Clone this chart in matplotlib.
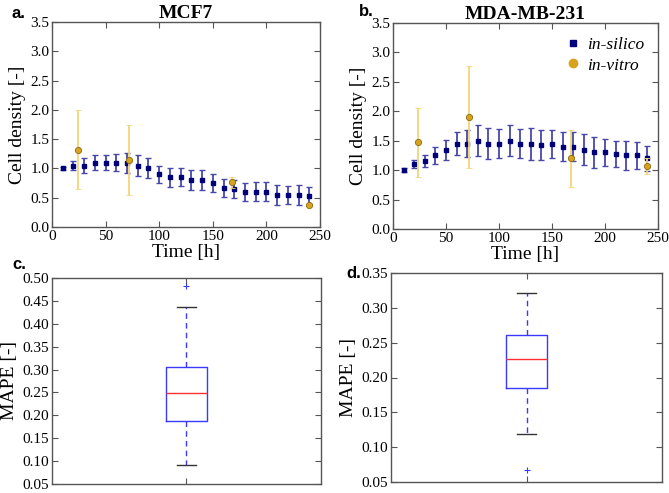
import numpy as np
import matplotlib
matplotlib.use('Agg')
import matplotlib.pyplot as plt
from matplotlib.lines import Line2D

plt.rcParams['font.family'] = ['Liberation Serif', 'DejaVu Serif']

# in-silico time points (h)
t_sim = [10, 20, 30, 40, 50, 60, 70, 80, 90, 100, 110, 120,
         130, 140, 150, 160, 170, 180, 190, 200, 210, 220, 230, 240]

# MCF7
mcf7_sim = [1.0, 1.05, 1.05, 1.1, 1.1, 1.1, 1.1, 1.05, 1.0, 0.9, 0.85, 0.85,
            0.8, 0.8, 0.75, 0.67, 0.65, 0.6, 0.6, 0.6, 0.55, 0.55, 0.55, 0.53]
mcf7_sim_err = [0.02, 0.08, 0.12, 0.13, 0.13, 0.15, 0.17, 0.18, 0.17, 0.15, 0.16, 0.15,
                0.17, 0.17, 0.16, 0.15, 0.15, 0.15, 0.16, 0.16, 0.17, 0.15, 0.17, 0.16]
t_vit = [24, 72, 168, 240]
mcf7_vit = [1.32, 1.15, 0.76, 0.38]
mcf7_vit_err = [0.67, 0.6, 0.09, 0.02]

# MDA-MB-231
mda_sim = [1.0, 1.1, 1.15, 1.25, 1.35, 1.45, 1.45, 1.5, 1.45, 1.45, 1.5, 1.45,
           1.45, 1.43, 1.45, 1.4, 1.4, 1.35, 1.3, 1.3, 1.27, 1.25, 1.25, 1.2]
mda_sim_err = [0.03, 0.07, 0.1, 0.14, 0.17, 0.2, 0.23, 0.26, 0.26, 0.25, 0.26, 0.25,
               0.27, 0.25, 0.24, 0.25, 0.24, 0.26, 0.26, 0.23, 0.22, 0.24, 0.23, 0.21]
mda_vit = [1.47, 1.9, 1.2, 1.07]
mda_vit_err = [0.58, 0.87, 0.48, 0.13]

# MAPE box plot summaries (whislo, q1, med, q3, whishi, fliers)
mape_c = [0.092, 0.187, 0.248, 0.305, 0.437, [0.483]]
mape_d = [0.119, 0.185, 0.227, 0.261, 0.321, [0.067]]

SIM_C = '#00007a'
VIT_C = '#d9a21c'

fig = plt.figure(figsize=(6.69, 4.93), dpi=100)
W, H = 669, 493


def px_axes(x0, y0, x1, y1):
    return fig.add_axes([x0 / W, 1 - y1 / H, (x1 - x0) / W, (y1 - y0) / H])


def style(ax):
    for s in ax.spines.values():
        s.set_color('#555555')
        s.set_linewidth(1.0)
    ax.tick_params(direction='in', length=4, color='#555555', labelsize=11,
                   top=True, right=True, pad=2)


def growth(ax, title, sim, sim_err, vit, vit_err, legend=False):
    ax.errorbar(t_sim, sim, yerr=sim_err, fmt='s', color=SIM_C, ms=2.6,
                ecolor='#4848aa', elinewidth=1.3, capsize=2.5, capthick=1,
                zorder=3)
    ax.errorbar(t_vit, vit, yerr=vit_err, fmt='o', color=VIT_C, ms=4.5,
                mec='#8a6a10', mew=0.6, ecolor='#f2d47a', elinewidth=1.3,
                capsize=2.5, capthick=1, zorder=4)
    ax.set_xlim(0, 250)
    ax.set_ylim(0, 3.5)
    ax.set_xticks([0, 50, 100, 150, 200, 250])
    ax.set_yticks(np.arange(0, 3.51, 0.5))
    ax.set_yticklabels(['%.1f' % v for v in np.arange(0, 3.51, 0.5)])
    ax.set_xlabel('Time [h]', fontsize=14, labelpad=1)
    ax.set_ylabel('Cell density [-]', fontsize=14, labelpad=3)
    ax.set_title(title, fontsize=14, fontweight='bold', pad=3)
    style(ax)
    if legend:
        handles = [Line2D([], [], ls='none', marker='s', color=SIM_C, ms=5),
                   Line2D([], [], ls='none', marker='o', color=VIT_C, ms=6)]
        leg = ax.legend(handles, ['in-silico', 'in-vitro'], loc='upper right',
                        frameon=False, fontsize=12.5, handletextpad=0.3,
                        borderaxespad=0.4, labelspacing=0.25, handlelength=1.0)
        for txt in leg.get_texts():
            txt.set_fontstyle('italic')


def box(ax, s, ylim, ticks):
    stats = [dict(whislo=s[0], q1=s[1], med=s[2], q3=s[3], whishi=s[4], fliers=s[5])]
    ax.bxp(stats, positions=[1], widths=0.15, capwidths=0.07,
           boxprops=dict(color='#3a3aff', linewidth=1.0),
           medianprops=dict(color='#ff3030', linewidth=1.0),
           whiskerprops=dict(color='#3a3aff', linestyle=(0, (4, 3)), linewidth=1.0),
           capprops=dict(color='#333333', linewidth=1.0),
           flierprops=dict(marker='+', markeredgecolor='#3a3aff', markersize=4, markeredgewidth=0.8))
    ax.set_xlim(0.5, 1.5)
    ax.set_ylim(*ylim)
    ax.set_yticks(ticks)
    ax.set_yticklabels(['%.2f' % v for v in ticks])
    ax.set_xticks([1])
    ax.set_xticklabels([''])
    ax.set_ylabel('MAPE [-]', fontsize=14, labelpad=3)
    style(ax)


ax_a = px_axes(52, 22, 320, 227)
growth(ax_a, 'MCF7', mcf7_sim, mcf7_sim_err, mcf7_vit, mcf7_vit_err)
ax_b = px_axes(393, 23, 658, 229)
growth(ax_b, 'MDA-MB-231', mda_sim, mda_sim_err, mda_vit, mda_vit_err, legend=True)

ax_c = px_axes(52, 278, 321, 484)
box(ax_c, mape_c, (0.05, 0.5), np.arange(0.05, 0.501, 0.05))
ax_d = px_axes(391, 273, 662, 482)
box(ax_d, mape_d, (0.05, 0.35), np.arange(0.05, 0.351, 0.05))

for lab, x, y in [('a.', 12, 18), ('b.', 359, 16), ('c.', 12, 269), ('d.', 346, 278)]:
    fig.text(x / W, 1 - y / H, lab, fontsize=12, fontweight='bold',
             family=['Liberation Sans', 'DejaVu Sans'])

fig.savefig('out.png', dpi=100)
